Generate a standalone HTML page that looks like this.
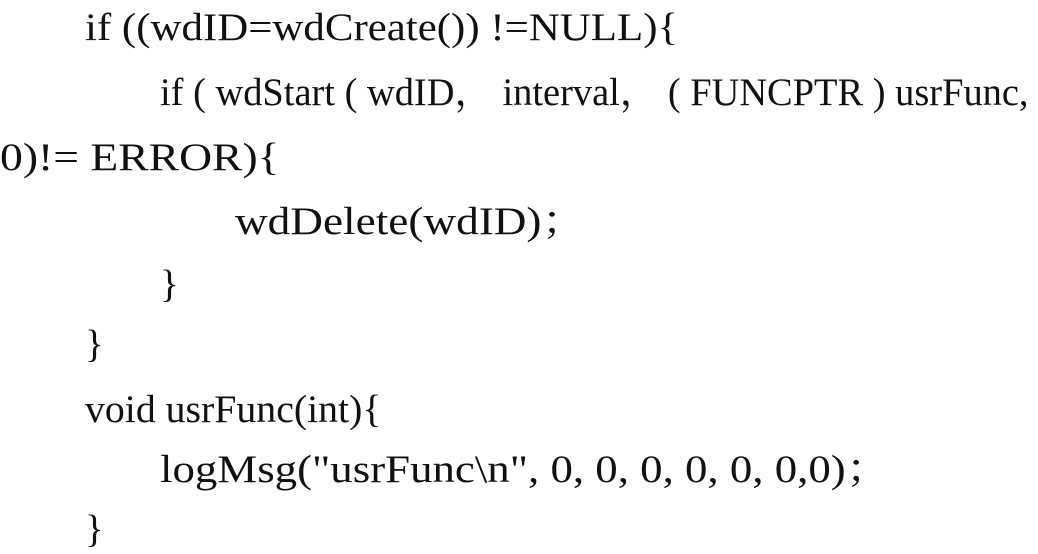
<!DOCTYPE html>
<html><head><meta charset="utf-8"><style>
html,body{margin:0;padding:0;background:#fff;}
body{width:1038px;height:554px;position:relative;overflow:hidden;font-family:"Liberation Serif","Noto Serif CJK SC",serif;font-size:39px;color:#111;}
.l{position:absolute;white-space:pre;line-height:46px;height:46px;transform-origin:0 50%;}
</style></head><body>
<div class="l" style="left:85px;top:5px;transform:scaleX(1.1)">if ((wdID=wdCreate()) !=NULL){</div>
<div class="l" style="left:160px;top:70px;transform:scaleX(0.985)">if ( wdStart ( wdID， interval， ( FUNCPTR ) usrFunc,</div>
<div class="l" style="left:0px;top:135px;transform:scaleX(1.17)">0)!= ERROR){</div>
<div class="l" style="left:235px;top:199px;transform:scaleX(1.16)">wdDelete(wdID)；</div>
<div class="l" style="left:160px;top:262px">}</div>
<div class="l" style="left:85px;top:322px">}</div>
<div class="l" style="left:85px;top:387px;transform:scaleX(1.02)">void usrFunc(int){</div>
<div class="l" style="left:160px;top:447px;transform:scaleX(1.15)">logMsg("usrFunc\n", 0, 0, 0, 0, 0, 0,0)；</div>
<div class="l" style="left:85px;top:507px">}</div>
</body></html>
